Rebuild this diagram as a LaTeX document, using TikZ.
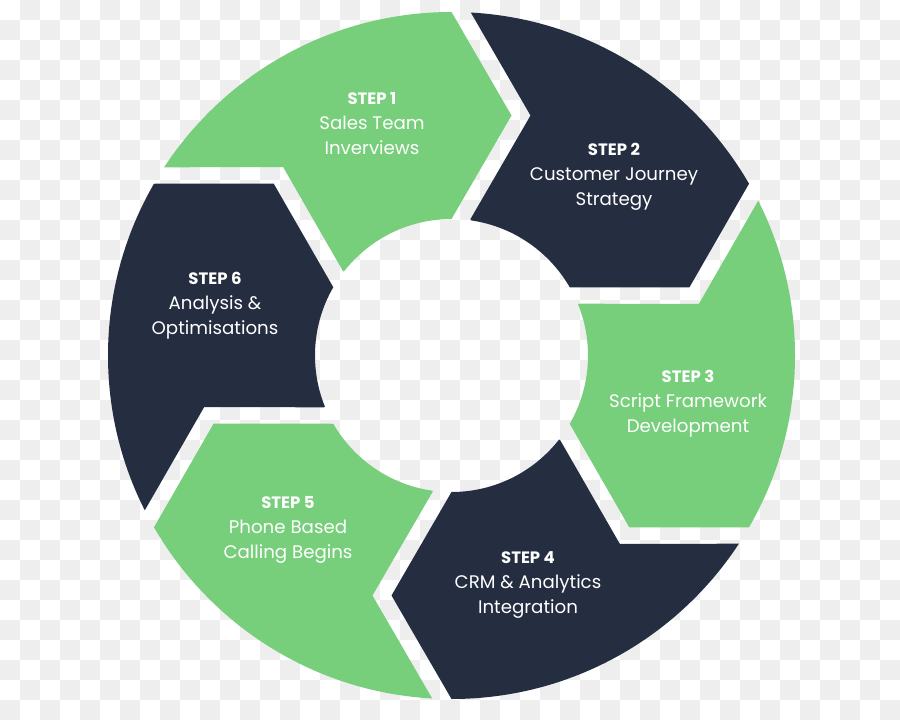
\documentclass[tikz,border=0pt]{standalone}
\usepackage{fontspec}
\setmainfont{Poppins}
\definecolor{grn}{HTML}{77CF7B}
\definecolor{navy}{HTML}{252D41}
\definecolor{chk}{HTML}{EEEEEE}
\tikzset{
  chksq/.style={fill=chk},
  lbl/.style={text=white, align=center, inner sep=0pt, font=\fontsize{18.2}{25}\selectfont},
}
% ring geometry (px = pt)
\pgfmathsetmacro\Ro{343.5}
\pgfmathsetmacro\Ri{136.5}
\pgfmathsetmacro\Rm{(\Ro+\Ri)/2}
\pgfmathsetmacro\Hc{60}
\pgfmathsetmacro\Gp{19}
\pgfmathsetmacro\Rf{\Ro+60}
% trailing chevron points (boundary at 60 deg, shifted by the gap)
\pgfmathsetmacro\Fx{\Rf*0.5+\Gp*0.8660254}   \pgfmathsetmacro\Fy{\Rf*0.8660254-\Gp*0.5}
\pgfmathsetmacro\Bx{\Ro*0.5+\Gp*0.8660254}   \pgfmathsetmacro\By{\Ro*0.8660254-\Gp*0.5}
\pgfmathsetmacro\Px{\Rm*0.5+(\Hc+\Gp)*0.8660254} \pgfmathsetmacro\Py{\Rm*0.8660254-(\Hc+\Gp)*0.5}
\pgfmathsetmacro\Ax{\Ri*0.5+\Gp*0.8660254}   \pgfmathsetmacro\Ay{\Ri*0.8660254-\Gp*0.5}
\pgfmathsetmacro\Cx{(\Ri-40)*0.5+\Gp*0.8660254} \pgfmathsetmacro\Cy{(\Ri-40)*0.8660254-\Gp*0.5}
\pgfmathsetmacro\Ky{\Rf*0.5773503}
\def\segshape{(0,0) -- (\Ri,0) -- (\Rm,-\Hc) -- (\Ro,0) -- (\Rf,0) -- (\Rf,\Ky) -- (\Fx,\Fy) -- (\Bx,\By) -- (\Px,\Py) -- (\Ax,\Ay) -- (\Cx,\Cy) -- cycle}
\newcommand\stp[1]{{\bfseries\fontsize{16.5}{25}\selectfont\rule{0pt}{13pt}STEP #1}}
\newcommand\lst[1]{#1\rule[-5pt]{0pt}{5pt}}
\begin{document}
\begin{tikzpicture}[x=1pt,y=1pt]
\useasboundingbox (0,0) rectangle (900,-720);
\fill[white] (0,0) rectangle (900,-720);
\foreach \i in {0,...,44} {
  \pgfmathtruncatemacro\off{mod(\i+1,2)}
  \foreach \j in {0,...,17} {
    \fill[chksq] ({\i*20},{-(2*\j+\off)*20}) rectangle ++(20,-20);
  }
}
\begin{scope}[shift={(451.5,-355.5)}, even odd rule]
  \clip (0,0) circle[radius=\Ro] (0,0) circle[radius=\Ri];
  \foreach \a/\c in {90/grn,30/navy,-30/grn,-90/navy,-150/grn,150/navy}
    \fill[\c, rotate=\a] \segshape;
\end{scope}
\node[lbl] (s1) at (372,-125) {\stp{1}\\Sales Team\\\lst{Inverviews}};
\node[lbl] (s2) at (614,-176) {\stp{2}\\Customer Journey\\\lst{Strategy}};
\node[lbl] (s3) at (688,-403) {\stp{3}\\Script Framework\\\lst{Development}};
\node[lbl] (s4) at (528,-584) {\stp{4}\\CRM \& Analytics\\\lst{Integration}};
\node[lbl] (s5) at (288,-529) {\stp{5}\\Phone Based\\\lst{Calling Begins}};
\node[lbl] (s6) at (215,-305) {\stp{6}\\Analysis \&\\\lst{Optimisations}};
\end{tikzpicture}
\end{document}
